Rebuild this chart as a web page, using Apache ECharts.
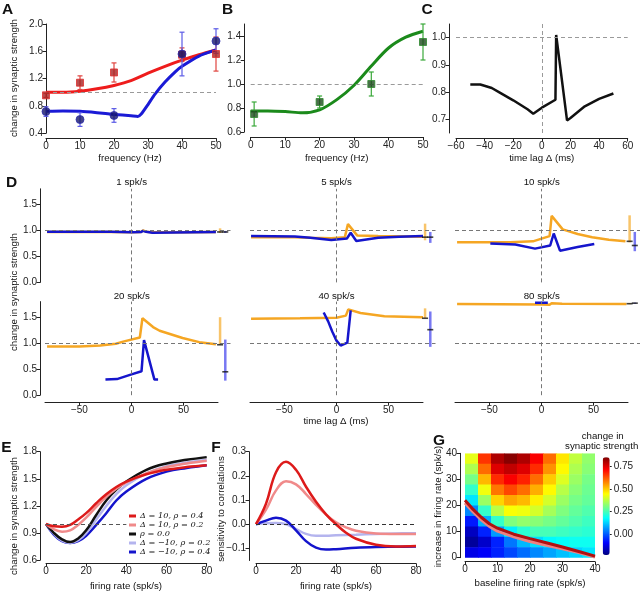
<!DOCTYPE html>
<html><head><meta charset="utf-8">
<script src="https://cdn.jsdelivr.net/npm/echarts@6/dist/echarts.min.js"></script>
<style>html,body{margin:0;padding:0;background:#fff}#c{width:640px;height:593px}</style>
</head><body><div id="c"></div><script>
// ================= DATA =================
// Panel A
const aFreq = [0, 10, 20, 40, 50];
const aRedPts = [0.955, 1.14, 1.29, 1.55, 1.56];
const aRedErr = [0.03, 0.10, 0.14, 0.10, 0.25];
const aBluePts = [0.717, 0.60, 0.66, 1.56, 1.75];
const aBlueErr = [0.07, 0.10, 0.10, 0.32, 0.18];
const aRedCurve = [[0,1.0],[5,1.0],[10,1.015],[15,1.05],[20,1.1],[25,1.17],[30,1.28],[35,1.38],[40,1.47],[45,1.55],[50,1.62]];
const aBlueCurve = [[0,0.72],[5,0.725],[10,0.72],[15,0.70],[20,0.675],[25,0.655],[27,0.645],[28,0.68],[30,0.82],[32,0.97],[35,1.15],[38,1.30],[40,1.38],[45,1.53],[50,1.62]];
// Panel B
const bFreq = [1, 20, 35, 50];
const bPts = [0.75, 0.85, 1.0, 1.35];
const bErr = [0.10, 0.05, 0.10, 0.15];
const bCurve = [[0,0.775],[5,0.775],[10,0.77],[15,0.76],[20,0.785],[25,0.87],[30,0.99],[35,1.15],[40,1.30],[45,1.39],[50,1.44]];
// Panel C
const cCurve = [[-50,0.828],[-43,0.828],[-35,0.815],[-30,0.80],[-20,0.77],[-10,0.737],[-6,0.721],[0,0.743],[9.5,0.772],[10,1.01],[17.6,0.696],[20,0.705],[30,0.748],[40,0.775],[50,0.795]];
// Panel D (orange / blue traces, side bars [x, lo, hi], tick values)
const dTitles = ['1 spk/s','5 spk/s','10 spk/s','20 spk/s','40 spk/s','80 spk/s'];
const d1O = [[-81,0.97],[-20,0.968],[0,0.965],[9,0.968],[11,1.0],[14,0.975],[20,0.965],[50,0.966],[81,0.968]];
const d1B = [[-81,0.975],[-20,0.972],[0,0.965],[9,0.968],[11,0.99],[14,0.972],[20,0.955],[40,0.962],[81,0.97]];
const d2O = [[-82,0.87],[-40,0.87],[-25,0.86],[-5,0.85],[8,0.87],[11,1.12],[20,0.90],[40,0.89],[83,0.88]];
const d2B = [[-82,0.89],[-40,0.885],[-25,0.86],[-5,0.815],[10,0.845],[13.6,0.955],[19,0.795],[40,0.86],[60,0.88],[83,0.89]];
const d3O = [[-81,0.77],[-30,0.77],[-8,0.79],[8,0.89],[10,1.28],[20.6,1.02],[35,0.93],[49,0.87],[65,0.82],[81,0.79]];
const d3B = [[-49,0.75],[-25,0.73],[-6,0.65],[8.6,0.71],[12,0.94],[18,0.61],[35,0.68],[51,0.74]];
const d4O = [[-81,0.935],[-50,0.935],[-30,0.955],[-15,0.99],[-8,1.03],[8,1.11],[10.5,1.48],[20.7,1.31],[27,1.24],[49,1.1],[65,1.02],[81,0.98]];
const d4B = [[-25,0.30],[-14,0.31],[0,0.40],[9.6,0.46],[12,1.06],[22,0.30],[25.5,0.30]];
const d5O = [[-82,1.47],[-35,1.48],[0,1.49],[9,1.53],[11.3,1.65],[23,1.58],[46,1.52],[83,1.50]];
const d5B = [[-12.3,1.59],[-8,1.42],[-4,1.22],[0,1.05],[4,0.955],[10.4,1.01],[13.6,1.63]];
const d6O = [[-81,1.755],[0,1.745],[8,1.74],[10,1.77],[20,1.76],[82,1.755]];
const d6B = [[-6,1.78],[6.3,1.78]];
const dBarO = [[85,0.95,1.04],[85,0.81,1.13],[85,0.77,1.29],[85,0.97,1.50],[85,1.48,1.67],[85,1.75,1.77]];
const dBarB = [[90,0.95,0.99],[90,0.76,0.97],[90,0.60,0.97],[90,0.28,1.07],[90,0.93,1.61],[90,1.76,1.78]];
const dTickO = [0.97, 0.87, 0.79, 0.97, 1.48, 1.76];
const dTickB = [0.97, 0.87, 0.71, 0.45, 1.26, 1.77];
// Panel E
const eNames = ['\u0394 = 10, \u03c1 = 0.4','\u0394 = 10, \u03c1 = 0.2','\u03c1 = 0.0','\u0394 = \u221210, \u03c1 = 0.2','\u0394 = \u221210, \u03c1 = 0.4'];
const eRed = [[0,1.0],[4,0.975],[8,0.97],[12,0.99],[16,1.05],[20,1.12],[25,1.23],[30,1.33],[35,1.41],[40,1.47],[50,1.55],[60,1.6],[70,1.63],[80,1.65]];
const ePink = [[0,1.0],[4,0.94],[8,0.915],[12,0.93],[16,0.99],[20,1.07],[25,1.19],[30,1.3],[35,1.39],[40,1.46],[50,1.56],[60,1.63],[70,1.67],[80,1.7]];
const eBlack = [[0,1.0],[4,0.9],[8,0.83],[12,0.8],[16,0.84],[20,0.93],[25,1.1],[30,1.26],[35,1.38],[40,1.47],[50,1.6],[60,1.67],[70,1.71],[80,1.74]];
const eLav = [[0,1.0],[4,0.89],[8,0.815],[12,0.79],[16,0.82],[20,0.9],[25,1.05],[30,1.2],[35,1.33],[40,1.43],[50,1.56],[60,1.64],[70,1.68],[80,1.71]];
const eBlue = [[0,1.0],[4,0.88],[8,0.81],[12,0.79],[16,0.81],[20,0.87],[25,0.99],[30,1.12],[35,1.26],[40,1.36],[50,1.5],[60,1.58],[70,1.62],[80,1.65]];
const eRefEnd = 40;
// Panel F
const fRed = [[0,0],[5,0.085],[10,0.215],[15,0.258],[20,0.225],[25,0.155],[30,0.093],[35,0.041],[40,0.0],[45,-0.035],[50,-0.06],[60,-0.085],[70,-0.092],[80,-0.09]];
const fPink = [[0,0],[5,0.06],[10,0.14],[15,0.178],[20,0.165],[25,0.125],[30,0.08],[35,0.04],[40,0.008],[45,-0.013],[50,-0.027],[60,-0.038],[70,-0.04],[80,-0.04]];
const fBlue = [[0,0],[5,0.015],[10,0.027],[15,0.015],[20,-0.025],[25,-0.07],[30,-0.097],[35,-0.105],[40,-0.103],[50,-0.097],[60,-0.094],[70,-0.093],[80,-0.092]];
const fLav = [[0,0],[5,0.004],[10,0.005],[15,0.0],[20,-0.02],[25,-0.04],[30,-0.048],[35,-0.048],[40,-0.046],[50,-0.043],[60,-0.04],[70,-0.038],[80,-0.037]];
// Panel G (cell centres and values)
const gB = [2,6,10,14,18,22,26,30,34,38];
const gD = [38,34,30,26,22,18,14,10,6,2];
const gV = [
 [0.42,0.66,0.80,0.84,0.80,0.72,0.60,0.47,0.38,0.33],
 [0.36,0.60,0.75,0.78,0.75,0.67,0.56,0.45,0.36,0.32],
 [0.30,0.52,0.67,0.72,0.68,0.60,0.50,0.41,0.34,0.30],
 [0.23,0.43,0.59,0.64,0.60,0.53,0.45,0.37,0.32,0.29],
 [0.15,0.34,0.49,0.54,0.52,0.46,0.40,0.34,0.30,0.28],
 [0.05,0.23,0.37,0.44,0.43,0.40,0.35,0.31,0.28,0.26],
 [-0.07,0.09,0.23,0.31,0.33,0.32,0.30,0.28,0.26,0.24],
 [-0.16,-0.06,0.07,0.16,0.22,0.25,0.25,0.24,0.23,0.22],
 [-0.20,-0.15,-0.06,0.03,0.10,0.14,0.17,0.18,0.19,0.19],
 [-0.12,-0.10,-0.06,-0.02,0.02,0.05,0.08,0.11,0.13,0.15]];
const gDark = [[0,22],[2.5,18.5],[5,15.5],[7.5,13],[10,11.3],[15,9],[20,7.3],[25,5.7],[30,4.1],[35,2.4],[40,0.6]];
const gPink = [[0,21],[2.5,17.5],[5,14.5],[7.5,12],[10,10.2],[15,8],[20,6.2],[25,4.8],[30,3.4],[35,2.0],[40,0.2]];
const cbMin = -0.23, cbMax = 0.85;
const cbTicks = [0, 0.25, 0.5, 0.75];

// ================= HELPERS =================
const FONT = "'Liberation Sans', Arial, Helvetica, sans-serif";
const grids = [], xAxes = [], yAxes = [], series = [], graphics = [];
const neg = v => (v < 0 ? '\u2212' : '');
const fI = v => neg(v) + Math.abs(v);
const f1 = v => neg(v) + Math.abs(v).toFixed(1);
const f2 = v => neg(v) + Math.abs(v).toFixed(2);
function ax(min, max, ticks, fmt, offset, show, extra) {
  return Object.assign({type:'value', min, max, show: show !== false, offset: offset || 0,
    splitLine:{show:false},
    axisLine:{show:true, onZero:false, lineStyle:{color:'#222', width:1}},
    axisTick:{show:true, length:3.5, customValues:ticks, lineStyle:{color:'#222', width:1}},
    axisLabel:{customValues:ticks, formatter:fmt, fontFamily:FONT, fontSize:10, color:'#222', margin:3}}, extra || {});
}
function addGrid(l, t, w, h, xa, ya) {
  const i = grids.length;
  grids.push({left:l, top:t, width:w, height:h, containLabel:false});
  xa.gridIndex = i; ya.gridIndex = i; xAxes.push(xa); yAxes.push(ya); return i;
}
function line(gi, data, color, w, extra) {
  series.push(Object.assign({type:'line', xAxisIndex:gi, yAxisIndex:gi, data, showSymbol:false, symbol:'none',
    lineStyle:{color, width:w}, itemStyle:{color}, z:3, silent:true}, extra || {}));
}
function refLines(gi, marks, color) {
  series.push({type:'line', xAxisIndex:gi, yAxisIndex:gi, data:[], silent:true, z:1,
    markLine:{silent:true, symbol:'none', label:{show:false}, animation:false,
      lineStyle:{type:[4,3], color:color || '#9a9a9a', width:1}, data:marks}});
}
function errBars(gi, xs, ys, es, color) {
  series.push({type:'custom', xAxisIndex:gi, yAxisIndex:gi, z:4, silent:true,
    data: xs.map((x, i) => [x, ys[i], es[i]]), encode:{x:0, y:1},
    renderItem:(p, api) => {
      const x = api.value(0), y = api.value(1), e = api.value(2);
      const t = api.coord([x, y + e]), b = api.coord([x, y - e]);
      const st = {stroke:color, lineWidth:1.2};
      return {type:'group', children:[
        {type:'line', shape:{x1:t[0], y1:t[1], x2:b[0], y2:b[1]}, style:st},
        {type:'line', shape:{x1:t[0]-2.5, y1:t[1], x2:t[0]+2.5, y2:t[1]}, style:st},
        {type:'line', shape:{x1:b[0]-2.5, y1:b[1], x2:b[0]+2.5, y2:b[1]}, style:st}]};
    }});
}
function marks(gi, xs, ys, sym, fill, edge, size) {
  series.push({type:'scatter', xAxisIndex:gi, yAxisIndex:gi, z:5, silent:true, symbol:sym, symbolSize:size,
    data: xs.map((x, i) => [x, ys[i]]), itemStyle:{color:fill, borderColor:edge, borderWidth:1}});
}
function txt(s, x, y, size, rot, bold) {
  graphics.push({type:'text', x, y, rotation: rot || 0, silent:true, z:100,
    style:{text:s, font:(bold ? 'bold ' : '') + size + 'px ' + FONT, fill:'#111',
      textAlign:'center', textVerticalAlign:'middle', align:'center', verticalAlign:'middle'}});
}

// ================= PANEL A =================
const gA = addGrid(46, 24, 170, 109.2,
  ax(0, 50, [0,10,20,30,40,50], fI, 5),
  ax(0.4, 2.0, [0.4,0.8,1.2,1.6,2.0], f1, 0));
refLines(gA, [{yAxis:1.0}]);
line(gA, aRedCurve, '#ee1c1c', 3, {smooth:0.3});
line(gA, aBlueCurve, '#1a1ad6', 3, {smooth:0.2});
errBars(gA, aFreq, aRedPts, aRedErr, '#e0443f');
marks(gA, aFreq, aRedPts, 'rect', '#a82222', '#e03030', 7);
errBars(gA, aFreq, aBluePts, aBlueErr, '#5a5ae6');
marks(gA, aFreq, aBluePts, 'circle', '#15156a', '#3030b0', 8);

// ================= PANEL B =================
const gBi = addGrid(250.7, 24, 172.3, 108,
  ax(0, 50, [0,10,20,30,40,50], fI, 5),
  ax(0.6, 1.5, [0.6,0.8,1.0,1.2,1.4], f1, 6.5));
refLines(gBi, [{yAxis:1.0}]);
line(gBi, bCurve, '#1b8a1b', 3, {smooth:0.3});
errBars(gBi, bFreq, bPts, bErr, '#3aa83a');
marks(gBi, bFreq, bPts, 'rect', '#1d4a1d', '#2e8b2e', 7);

// ================= PANEL C =================
const gC = addGrid(456, 24, 171.7, 109,
  ax(-60, 60, [-60,-40,-20,0,20,40,60], fI, 5),
  ax(0.65, 1.05, [0.7,0.8,0.9,1.0], f1, 7));
refLines(gC, [{yAxis:1.0}, {xAxis:0}]);
line(gC, cCurve, '#111', 2.5);

// ================= PANEL D =================
const dCols = [45, 250, 455], dRows = [188.8, 301.6];
const dH = 93.6, dWData = 185.5, dWAxis = 173;
const dO = [d1O, d2O, d3O, d4O, d5O, d6O], dBl = [d1B, d2B, d3B, d4B, d5B, d6B];
for (let k = 0; k < 6; k++) {
  const c = k % 3, r = Math.floor(k / 3);
  const gi = addGrid(dCols[c], dRows[r], dWData, dH,
    ax(-83, 95, [], fI, 0, false),
    ax(0, 1.8, [0,0.5,1.0,1.5], f1, 5, c === 0));
  refLines(gi, [{yAxis:1.0}, {xAxis:0}], '#777');
  line(gi, dO[k], '#f5a623', 2.5);
  line(gi, dBl[k], '#1515cc', 2.5);
  series.push({type:'custom', xAxisIndex:gi, yAxisIndex:gi, z:4, silent:true,
    data:[dBarO[k].concat([0]), dBarB[k].concat([1])], encode:{x:0, y:[1,2]},
    renderItem:(p, api) => {
      const a = api.coord([api.value(0), api.value(1)]), b = api.coord([api.value(0), api.value(2)]);
      return {type:'line', shape:{x1:a[0], y1:a[1], x2:b[0], y2:b[1]},
        style:{stroke: api.value(3) ? '#7878f2' : '#f8c46a', lineWidth:2.5}};
    }});
  series.push({type:'scatter', xAxisIndex:gi, yAxisIndex:gi, z:6, silent:true, symbol:'rect', symbolSize:[6,1.6],
    data:[[dBarO[k][0], dTickO[k]], [dBarB[k][0], dTickB[k]]], itemStyle:{color:'#111'}});
  if (r === 1) {
    addGrid(dCols[c], dRows[r], dWAxis, dH, ax(-83, 83, [-50,0,50], fI, 7), ax(0, 1.8, [], f1, 0, false));
  }
}

// ================= PANEL E =================
const gE = addGrid(46, 451.7, 160.7, 108.5,
  ax(0, 80, [0,20,40,60,80], fI, 3),
  ax(0.6, 1.8, [0.6,0.9,1.2,1.5,1.8], f1, 6));
refLines(gE, [[{coord:[0,1.0]}, {coord:[eRefEnd,1.0]}]], '#555');
line(gE, eBlue, '#1414cc', 2.5, {name:eNames[4], smooth:0.4});
line(gE, eLav, '#b4b4ee', 2.5, {name:eNames[3], smooth:0.4});
line(gE, eBlack, '#111', 2.5, {name:eNames[2], smooth:0.4});
line(gE, ePink, '#f08a8a', 2.5, {name:eNames[1], smooth:0.4});
line(gE, eRed, '#dd1a1a', 2.5, {name:eNames[0], smooth:0.4});

// ================= PANEL F =================
const gF = addGrid(256, 451.7, 160, 108.8,
  ax(0, 80, [0,20,40,60,80], fI, 3),
  ax(-0.15, 0.3, [-0.1,0,0.1,0.2,0.3], f1, 7));
refLines(gF, [{yAxis:0}], '#333');
line(gF, fLav, '#b4b4ee', 2.5, {smooth:0.4});
line(gF, fBlue, '#1414cc', 2.5, {smooth:0.4});
line(gF, fPink, '#f08a8a', 2.5, {smooth:0.4});
line(gF, fRed, '#dd1a1a', 2.5, {smooth:0.4});

// ================= PANEL G =================
const gG = addGrid(465, 453.3, 130, 104.4,
  ax(0, 40, [0,10,20,30,40], fI, 4),
  ax(0, 40, [0,10,20,30,40], fI, 5));
const heatData = [];
gD.forEach((d, i) => gB.forEach((b, j) => heatData.push([b, d, gV[i][j]])));
const heatIdx = series.length;
series.push({type:'custom', xAxisIndex:gG, yAxisIndex:gG, z:1, silent:true, clip:true, data:heatData,
  encode:{x:0, y:1},
  renderItem:(p, api) => {
    const b = api.value(0), d = api.value(1);
    const p0 = api.coord([b - 2, d + 2]), p1 = api.coord([b + 2, d - 2]);
    return {type:'rect', shape:{x:p0[0], y:p0[1], width:p1[0]-p0[0]+0.6, height:p1[1]-p0[1]+0.6},
      style:{fill: api.visual('color')}};
  }});
line(gG, gPink, '#f08080', 3);
line(gG, gDark, '#b01010', 3);
// colorbar axis
addGrid(602.7, 457.3, 7, 97.7, ax(0, 1, [], fI, 0, false),
  ax(cbMin, cbMax, cbTicks, f2, 0, true, {position:'right'}));
yAxes[yAxes.length-1].axisLine.show = false;
yAxes[yAxes.length-1].axisTick.length = 2;
yAxes[yAxes.length-1].axisLabel.margin = 4;

// ================= TEXT =================
txt('A', 7.5, 10, 15.5, 0, true); txt('B', 227.5, 9.5, 15.5, 0, true); txt('C', 427, 9.5, 15.5, 0, true);
txt('D', 11.5, 183, 15.5, 0, true); txt('E', 6.5, 447.5, 15.5, 0, true); txt('F', 216, 447.5, 15.5, 0, true);
txt('G', 439, 441, 15.5, 0, true);
txt('change in synaptic strength', 14, 78, 9.7, Math.PI/2);
txt('frequency (Hz)', 130, 158.3, 9.7); txt('frequency (Hz)', 336.7, 158.3, 9.7);
txt('time lag \u0394 (ms)', 541.7, 158.3, 9.7);
txt('change in synaptic strength', 14, 292, 9.7, Math.PI/2);
txt('time lag \u0394 (ms)', 336, 421.7, 9.7);
for (let k = 0; k < 6; k++) txt(dTitles[k], [131.7, 336.5, 541.7][k % 3], k < 3 ? 182.3 : 296, 9.7);
txt('change in synaptic strength', 14, 516, 9.7, Math.PI/2);
txt('firing rate (spk/s)', 126, 586.5, 9.7);
txt('sensitivity to correlations', 221, 509, 9.7, Math.PI/2);
txt('firing rate (spk/s)', 336, 586.5, 9.7);
txt('increase in firing rate (spk/s)', 438.3, 506.5, 9.7, Math.PI/2);
txt('baseline firing rate (spk/s)', 530, 583.3, 9.7);
txt('change in', 602.7, 436, 9.7); txt('synaptic strength', 601.7, 446.7, 9.7);

const jet = ['#00007f','#0000ff','#007fff','#00ffff','#7fff7f','#ffff00','#ff7f00','#ff0000','#7f0000'];
const option = {
  animation:false, backgroundColor:'#fff',
  grid:grids, xAxis:xAxes, yAxis:yAxes, series, graphic:{elements:graphics},
  legend:{data:eNames, orient:'vertical', left:129, top:512, itemWidth:7, itemHeight:3, itemGap:1, icon:'rect',
    selectedMode:false, padding:0,
    textStyle:{fontFamily:"'DejaVu Serif', serif", fontStyle:'italic', fontSize:8.2, color:'#111', padding:[0,0,0,-1]}},
  visualMap:{type:'continuous', min:cbMin, max:cbMax, dimension:2, seriesIndex:heatIdx, inRange:{color:jet},
    calculable:false, orient:'vertical', left:602.7, top:457.3, itemWidth:7, itemHeight:97.7, padding:0,
    showLabel:false, hoverLink:false}
};
echarts.init(document.getElementById('c'), null, {renderer:'canvas'}).setOption(option);
</script></body></html>
